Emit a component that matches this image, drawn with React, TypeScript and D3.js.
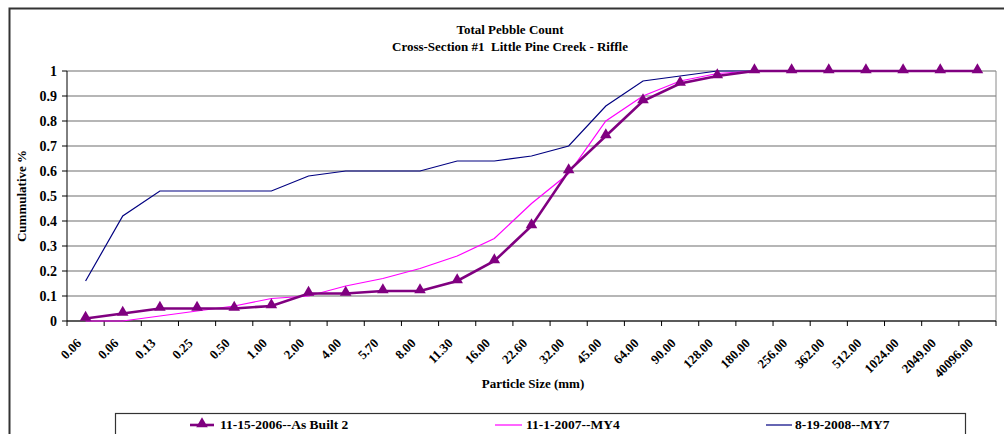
import React from "react";
import * as d3 from "d3";

const categories = ["0.06","0.06","0.13","0.25","0.50","1.00","2.00","4.00","5.70","8.00","11.30","16.00","22.60","32.00","45.00","64.00","90.00","128.00","180.00","256.00","362.00","512.00","1024.00","2049.00","40096.00"];
const asBuilt = [0.01,0.03,0.05,0.05,0.05,0.06,0.11,0.11,0.12,0.12,0.16,0.24,0.38,0.60,0.74,0.88,0.95,0.98,1,1,1,1,1,1,1];
const my4 = [0,0,0.02,0.04,0.06,0.09,0.10,0.14,0.17,0.21,0.26,0.33,0.47,0.59,0.80,0.90,0.96,0.99,1,1,1,1,1,1,1];
const my7 = [0.16,0.42,0.52,0.52,0.52,0.52,0.58,0.60,0.60,0.60,0.64,0.64,0.66,0.70,0.86,0.96,0.98,1,1,1,1,1,1,1,1];
const yTicks = [0,0.1,0.2,0.3,0.4,0.5,0.6,0.7,0.8,0.9,1];
const seriesNames = ["11-15-2006--As Built 2","11-1-2007--MY4","8-19-2008--MY7"];

const FONT = "'Liberation Serif', 'Times New Roman', serif";

export default function App() {
  const W = 1004, H = 434;
  const L = 67, R = 996, T = 71, B = 321;
  const x = d3.scaleBand<string>().domain(categories.map((_, i) => String(i))).range([L, R]);
  const y = d3.scaleLinear().domain([0, 1]).range([B, T]);
  const cx = (i: number) => (x(String(i)) as number) + x.bandwidth() / 2;
  const line = d3.line<number>().x((_, i) => cx(i)).y((d) => y(d));
  const tri = d3.symbol().type(d3.symbolTriangle).size(58)();

  return (
    <svg width={W} height={H} style={{ position: "absolute", left: 0, top: 0, fontFamily: FONT }}>
      <rect x={0} y={0} width={W} height={H} fill="#fff" />
      <path d={`M9.5,${H} V8.5 H${W}`} fill="none" stroke="#333" strokeWidth={2} />
      <text x={510} y={34} textAnchor="middle" fontSize={13} fontWeight="bold">Total Pebble Count</text>
      <text x={510} y={51} textAnchor="middle" fontSize={13} fontWeight="bold" style={{ whiteSpace: "pre" }}>{"Cross-Section #1  Little Pine Creek - Riffle"}</text>
      {yTicks.map((t) => (
        <line key={t} x1={L} x2={R} y1={y(t)} y2={y(t)} stroke="#6e6e6e" strokeWidth={1.2} />
      ))}
      <line x1={R} x2={R} y1={T} y2={B} stroke="#8a8a8a" strokeWidth={1} />
      <line x1={L} x2={L} y1={T} y2={B} stroke="#000" strokeWidth={1} />
      <line x1={L} x2={R} y1={B} y2={B} stroke="#000" strokeWidth={1} />
      {yTicks.map((t) => (
        <g key={"yt" + t}>
          <line x1={L - 5} x2={L} y1={y(t)} y2={y(t)} stroke="#000" />
          <text x={57} y={y(t)} dy="0.35em" textAnchor="end" fontSize={14} fontWeight="bold">{String(t)}</text>
        </g>
      ))}
      {categories.map((c, i) => (
        <line key={"xt" + i} x1={(x(String(i)) as number)} x2={(x(String(i)) as number)} y1={B} y2={B + 5} stroke="#000" />
      ))}
      <line x1={R} x2={R} y1={B} y2={B + 5} stroke="#000" />
      {categories.map((c, i) => (
        <text key={"xl" + i} transform={`translate(${cx(i) - 3.5},344) rotate(-45)`} textAnchor="end" fontSize={13} fontWeight="bold">{c}</text>
      ))}
      <text transform={`translate(26,196) rotate(-90)`} textAnchor="middle" fontSize={13} fontWeight="bold">Cummulative %</text>
      <text x={533} y={388} textAnchor="middle" fontSize={13} fontWeight="bold">Particle Size (mm)</text>
      <path d={line(my7) || ""} fill="none" stroke="#000080" strokeWidth={1.2} />
      <path d={line(my4) || ""} fill="none" stroke="#ff00ff" strokeWidth={1.2} />
      <path d={line(asBuilt) || ""} fill="none" stroke="#800080" strokeWidth={2.6} />
      {asBuilt.map((v, i) => (
        <path key={"m" + i} d={tri || ""} transform={`translate(${cx(i)},${y(v) - 1})`} fill="#800080" />
      ))}
      <rect x={115.5} y={413.5} width={850} height={40} fill="#fff" stroke="#333" strokeWidth={1.2} />
      <line x1={190} x2={214} y1={425} y2={425} stroke="#800080" strokeWidth={2.6} />
      <path d={tri || ""} transform="translate(202,424)" fill="#800080" />
      <text x={220} y={429} fontSize={13.5} fontWeight="bold">{seriesNames[0]}</text>
      <line x1={495} x2={522} y1={425} y2={425} stroke="#ff00ff" strokeWidth={1.2} />
      <text x={526} y={429} fontSize={13.5} fontWeight="bold">{seriesNames[1]}</text>
      <line x1={766} x2={792} y1={425} y2={425} stroke="#000080" strokeWidth={1.2} />
      <text x={795} y={429} fontSize={13.5} fontWeight="bold">{seriesNames[2]}</text>
    </svg>
  );
}
